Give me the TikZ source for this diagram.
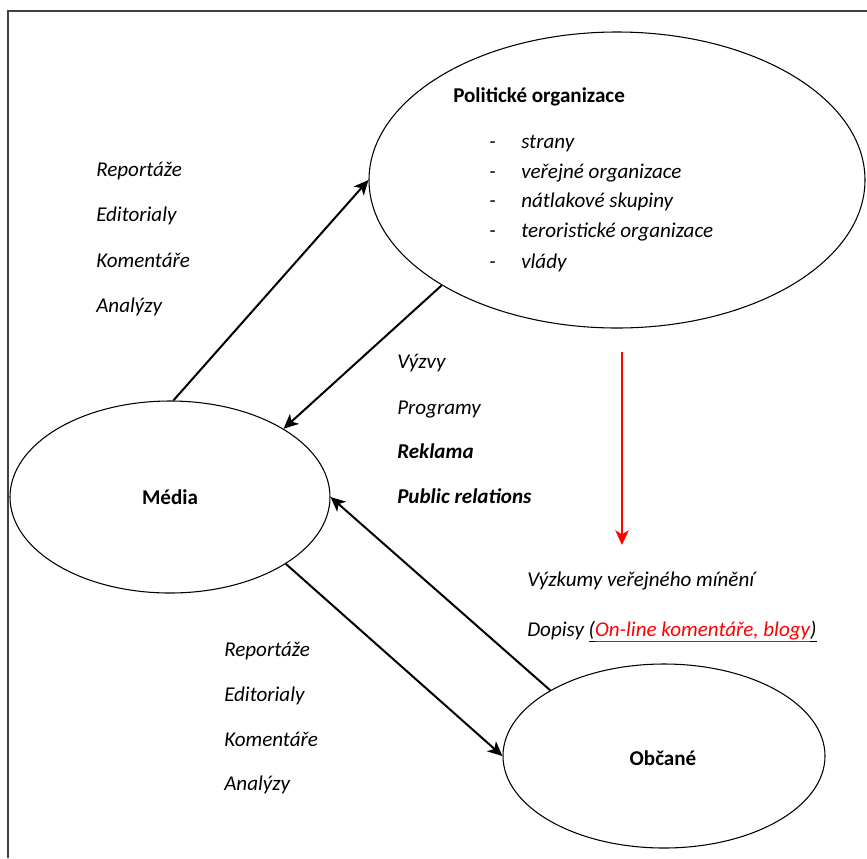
\documentclass[tikz,border=0pt]{standalone}
\usepackage{fontspec}
\setmainfont{Carlito}
\usetikzlibrary{shapes.geometric,arrows.meta}
\newcommand\myul[1]{\underline{#1\vphantom{(}}}
\begin{document}
\begin{tikzpicture}[x=0.75pt,y=-0.75pt,
  bubble/.style={draw, ellipse, line width=0.8pt, inner sep=0pt},
  conn/.style={line width=1.5pt, -{Stealth[length=11pt,width=10pt,inset=3pt]}},
  lbl/.style={anchor=base west, inner sep=0pt, font=\fontsize{15.8}{18}\selectfont\itshape},
  blbl/.style={lbl, font=\fontsize{15.8}{18}\selectfont\bfseries\itshape},
  title/.style={font=\fontsize{15.8}{18}\selectfont\bfseries, inner sep=0pt}]
\useasboundingbox (0,0) rectangle (867,858);
% frame (top and left only)
\draw[line width=1.3pt, black!75] (8,858) -- (8,11) -- (867,11);
% ellipses
\node[bubble, minimum width=372pt, minimum height=222pt] (pol) at (617,180) {};
\node[bubble, minimum width=240pt, minimum height=144pt] (media) at (170,497) {};
\node[bubble, minimum width=241.5pt, minimum height=138pt] (obc) at (664,756) {};
% titles
\node[title, anchor=base west] (poltitle) at (453,102) {Politické organizace};
\node[title] (mediatitle) at (170,497) {Média};
\node[title] (obctitle) at (663,758) {Občané};
% political list
\foreach \y/\t [count=\i] in {148/strany,178/veřejné organizace,207/nátlakové skupiny,237/teroristické organizace,268/vlády}{
  \node[lbl] (dash\i) at (489,\y) {-};
  \node[lbl] (item\i) at (521,\y) {\t};
}
% top-left list
\node[lbl] (tl1) at (96,176) {Reportáže};
\node[lbl] (tl2) at (96,221) {Editorialy};
\node[lbl] (tl3) at (96,267) {Komentáře};
\node[lbl] (tl4) at (96,312) {Analýzy};
% middle list
\node[lbl] (m1) at (397,368) {Výzvy};
\node[lbl] (m2) at (397,414) {Programy};
\node[blbl] (m3) at (397,458) {Reklama};
\node[blbl] (m4) at (397,503) {Public relations};
% bottom-left list
\node[lbl] (bl1) at (224,656) {Reportáže};
\node[lbl] (bl2) at (224,701) {Editorialy};
\node[lbl] (bl3) at (224,746) {Komentáře};
\node[lbl] (bl4) at (224,790) {Analýzy};
% right list
\node[lbl] (r1) at (527,586) {Výzkumy veřejného mínění};
\node[lbl] (r2) at (527,636) {Dopisy \myul{(}\textcolor{red}{\myul{On-line komentáře, blogy}}\myul{)}};
% connectors
\draw[conn] (media.88) -- (pol.west);
\draw[conn] (pol.211) -- (media.31);
\draw[conn] (obc.150) -- (media.east);
\draw[conn] (media.330) -- (obc.west);
\coordinate (rs) at (622,352);
\coordinate (re) at (622,545);
\draw[conn, red, line width=1.4pt] (rs) -- (re);
\end{tikzpicture}
\end{document}
